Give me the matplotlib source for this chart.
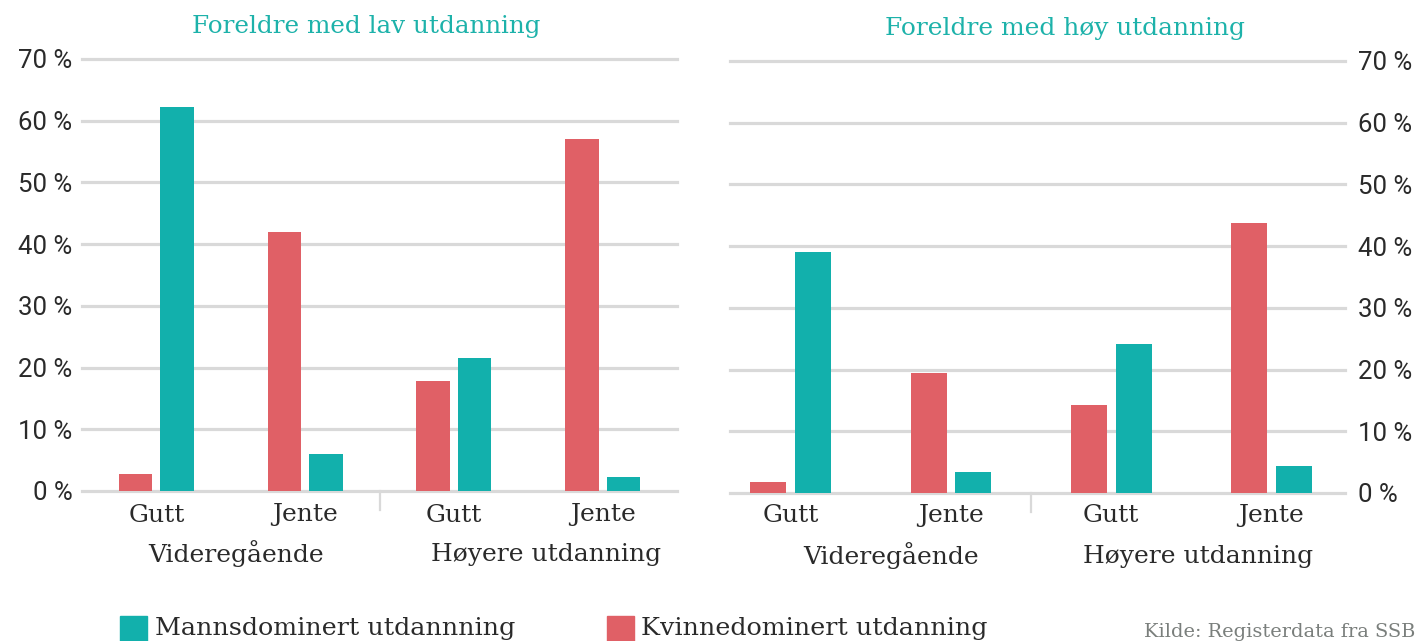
import matplotlib
matplotlib.use("Agg")
import matplotlib.pyplot as plt
from matplotlib.patches import Rectangle
import matplotlib.transforms as mtransforms

# ---------------- data ----------------
categories = ["Gutt", "Jente", "Gutt", "Jente"]
groups = ["Videregående", "Høyere utdanning"]
series_names = ["Mannsdominert utdannning", "Kvinnedominert utdanning"]
titles = ["Foreldre med lav utdanning", "Foreldre med høy utdanning"]
yticks = [0, 10, 20, 30, 40, 50, 60, 70]
ytick_labels = ["0 %", "10 %", "20 %", "30 %", "40 %", "50 %", "60 %", "70 %"]
source_text = "Kilde: Registerdata fra SSB"

lav_kvinne = [2.7, 42.0, 17.9, 57.0]
lav_mann = [62.2, 6.0, 21.6, 2.3]
hoy_kvinne = [1.8, 19.5, 14.2, 43.8]
hoy_mann = [39.1, 3.4, 24.2, 4.4]

# ---------------- style ----------------
W, H, DPI = 1423, 641, 100
TEAL = "#12B0AC"
RED = "#E06066"
GRID = "#D9D9D9"
TXT = "#2A2A2A"
TITLE_C = "#1DB2AA"
SRC_C = "#7A7F7C"
SERIF = ["DejaVu Serif"]
SANS = ["Roboto", "DejaVu Sans"]

fig = plt.figure(figsize=(W / DPI, H / DPI), dpi=DPI)
fig.patch.set_facecolor("white")


def rect(x0, y_top, w, h):
    return [x0 / W, 1 - (y_top + h) / H, w / W, h / H]


def fpos(x, y):
    return x / W, 1 - y / H


ax1 = fig.add_axes(rect(82, 59, 595, 432))
ax2 = fig.add_axes(rect(730, 61, 615, 432))

# (axes, red values, teal values, xlim, side, group-label pixel shifts, tick pad)
panels = [
    (ax1, lav_kvinne, lav_mann, (-0.5, 3.5), "left", (5, 18), 9),
    (ax2, hoy_kvinne, hoy_mann, (-0.38, 3.46), "right", (20, 7), 8),
]

bw = 0.225
off = 0.14
xs = list(range(len(categories)))
for ax, kv, mn, xl, side, gshift, xpad in panels:
    ax.bar([x - off for x in xs], kv, width=bw, color=RED, zorder=3)
    ax.bar([x + off for x in xs], mn, width=bw, color=TEAL, zorder=3)
    ax.set_xlim(*xl)
    ax.set_ylim(0, 70)
    for s in ax.spines.values():
        s.set_visible(False)
    ax.set_yticks(yticks)
    ax.set_yticklabels(ytick_labels, family=SANS, fontsize=18.5, color=TXT)
    ax.yaxis.grid(True, color=GRID, lw=2.3, zorder=0)
    for g in ax.get_ygridlines():
        g.set_clip_on(False)
    ax.set_axisbelow(True)
    ax.tick_params(axis="y", length=0, pad=7 if side == "left" else 9)
    if side == "right":
        ax.yaxis.tick_right()
    ax.set_xticks(xs)
    ax.set_xticklabels(categories, family=SERIF, fontsize=18, color=TXT)
    ax.tick_params(axis="x", length=0, pad=xpad)
    # divider between groups
    trans = mtransforms.blended_transform_factory(ax.transData, ax.transAxes)
    ax.plot([1.5, 1.5], [0, -19 / 432], transform=trans, color=GRID,
            lw=1.6, clip_on=False, zorder=1)
    # group labels
    for gi, gname in enumerate(groups):
        ax.annotate(gname, xy=(gi * 2 + 0.5, 0), xycoords=trans,
                    xytext=(gshift[gi], -63), textcoords="offset pixels",
                    ha="center", va="center", family=SERIF,
                    fontsize=18, color=TXT)

# titles
t1 = fig.text(*fpos(366, 26), titles[0], ha="center", va="center",
              family=SERIF, fontsize=17, color=TITLE_C)
t2 = fig.text(*fpos(1065, 29), titles[1], ha="center", va="center",
              family=SERIF, fontsize=17, color=TITLE_C)
# the right title is cropped at its baseline in the reference
fig.patches.append(Rectangle(fpos(860, 52), 420 / W, 11 / H,
                             transform=fig.transFigure, color="white",
                             zorder=10))

# legend
fig.patches.append(Rectangle(fpos(120, 643), 27 / W, 27 / H,
                             transform=fig.transFigure, color=TEAL))
fig.patches.append(Rectangle(fpos(607, 643), 27 / W, 27 / H,
                             transform=fig.transFigure, color=RED))
l1 = fig.text(*fpos(155, 629), series_names[0], ha="left", va="center",
              family=SERIF, fontsize=18, color=TXT)
l2 = fig.text(*fpos(641, 629), series_names[1], ha="left", va="center",
              family=SERIF, fontsize=18, color=TXT)
src = fig.text(*fpos(1415, 632), source_text, ha="right", va="center",
               family=SERIF, fontsize=12, color=SRC_C)

# fit text widths to the reference
fig.canvas.draw()
r = fig.canvas.get_renderer()


def fit(t, target):
    bb = t.get_window_extent(renderer=r)
    t.set_fontsize(t.get_fontsize() * target / bb.width)


fit(t1, 349)
fit(t2, 360)
fit(l1, 360)
fit(l2, 346)
fit(src, 270)

fig.savefig("out.png", dpi=DPI, facecolor="white")
